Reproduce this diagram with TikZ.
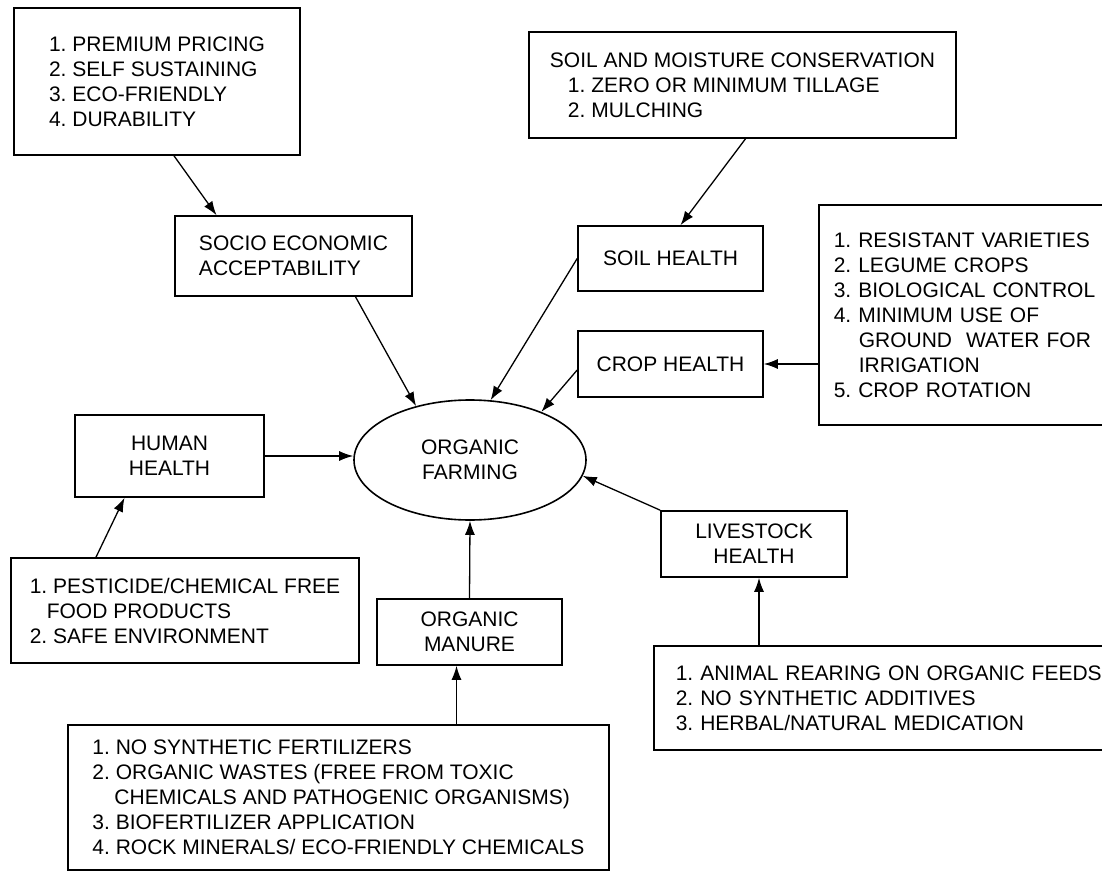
\documentclass[tikz,border=0pt]{standalone}
\usepackage{fontspec}
\setmainfont{Liberation Sans}
\usetikzlibrary{arrows.meta,shapes.geometric}
\frenchspacing

\begin{document}
\begin{tikzpicture}[x=1pt, y=-1pt,
    box/.style={draw, line width=1.6pt, rectangle, inner sep=0pt, align=left,
                font=\fontsize{21}{25}\selectfont},
    arr/.style={line width=1.3pt, -{Latex[length=14pt,width=10pt]}}]
    \clip (0,0) rectangle (1102,874);

    % Centre
    \node[box, ellipse, align=center, minimum width=232pt, minimum height=120pt] (of) at (470,460) {ORGANIC\\FARMING};

    % Upper boxes
    \node[box, minimum width=286pt, minimum height=147pt] (adv) at (157,81.5)
        {1. PREMIUM PRICING\\2. SELF SUSTAINING\\3. ECO-FRIENDLY\\4. DURABILITY};
    \node[box, minimum width=237pt, minimum height=80pt] (sea) at (293.5,256)
        {SOCIO ECONOMIC\\ACCEPTABILITY};
    \node[box, minimum width=427pt, minimum height=106pt] (smc) at (742.5,85)
        {SOIL AND MOISTURE CONSERVATION\\\hspace*{18pt}1. ZERO OR MINIMUM TILLAGE\\\hspace*{18pt}2. MULCHING};
    \node[box, align=center, minimum width=185pt, minimum height=65pt] (sh) at (670.5,258.5) {SOIL HEALTH};
    \node[box, align=center, minimum width=185pt, minimum height=66pt] (ch) at (670.5,364) {CROP HEALTH};
    \node[box, anchor=west, text width=300pt, inner xsep=15pt, minimum height=220pt] (cr) at (818,315)
        {1. RESISTANT VARIETIES\\2. LEGUME CROPS\\3. BIOLOGICAL CONTROL\\4. MINIMUM USE OF\\
         \hspace*{25pt}GROUND\ \ WATER FOR\\\hspace*{25pt}IRRIGATION\\5. CROP ROTATION};

    % Lower boxes
    \node[box, align=center, minimum width=189pt, minimum height=82pt] (hh) at (169.5,456) {HUMAN\\HEALTH};
    \node[box, minimum width=348pt, minimum height=105pt] (pest) at (185,610.5)
        {1. PESTICIDE/CHEMICAL FREE\\\hspace*{17pt}FOOD PRODUCTS\\2. SAFE ENVIRONMENT};
    \node[box, align=center, minimum width=185pt, minimum height=66pt] (om) at (469.5,632) {ORGANIC\\MANURE};
    \node[box, minimum width=541pt, minimum height=145pt] (fert) at (338.5,797.5)
        {1. NO SYNTHETIC FERTILIZERS\\2. ORGANIC WASTES (FREE FROM TOXIC\\
         \hspace*{22pt}CHEMICALS AND PATHOGENIC ORGANISMS)\\3. BIOFERTILIZER APPLICATION\\
         4. ROCK MINERALS/ ECO-FRIENDLY CHEMICALS};
    \node[box, align=center, minimum width=186pt, minimum height=66pt] (lh) at (754,544) {LIVESTOCK\\HEALTH};
    \node[box, anchor=west, text width=460pt, inner xsep=22pt, minimum height=104pt] (animal) at (653,698)
        {1. ANIMAL REARING ON ORGANIC FEEDS\\2. NO SYNTHETIC ADDITIVES\\3. HERBAL/NATURAL MEDICATION};

    % Feet of the vertical arrows
    \coordinate (fm) at ([xshift=118pt]fert.north);
    \coordinate (lhfoot) at ([xshift=5pt]lh.south);

    % Arrows
    \draw[arr] ([xshift=17pt]adv.south) -- ([xshift=-77pt]sea.north);
    \draw[arr] ([xshift=3pt]smc.south) -- ([xshift=10pt]sh.north);
    \draw[arr] ([xshift=62pt]sea.south) -- (of.135);
    \draw[arr] (sh.west) -- (of.71);
    \draw[arr] ([yshift=-6pt]ch.west) -- (of.34);
    \draw[arr] (cr.west |- ch.east) -- (ch.east);
    \draw[arr] (hh.east) -- (hh.east -| of.west);
    \draw[arr] ([xshift=-89pt]pest.north) -- ([xshift=-45pt]hh.south);
    \draw[arr] (om.north) -- (of.south);
    \draw[arr] (fm) -- (fm |- om.south);
    \draw[arr] (lh.north west) -- (of.-8);
    \draw[arr] (lhfoot |- animal.north) -- (lhfoot);
\end{tikzpicture}
\end{document}
